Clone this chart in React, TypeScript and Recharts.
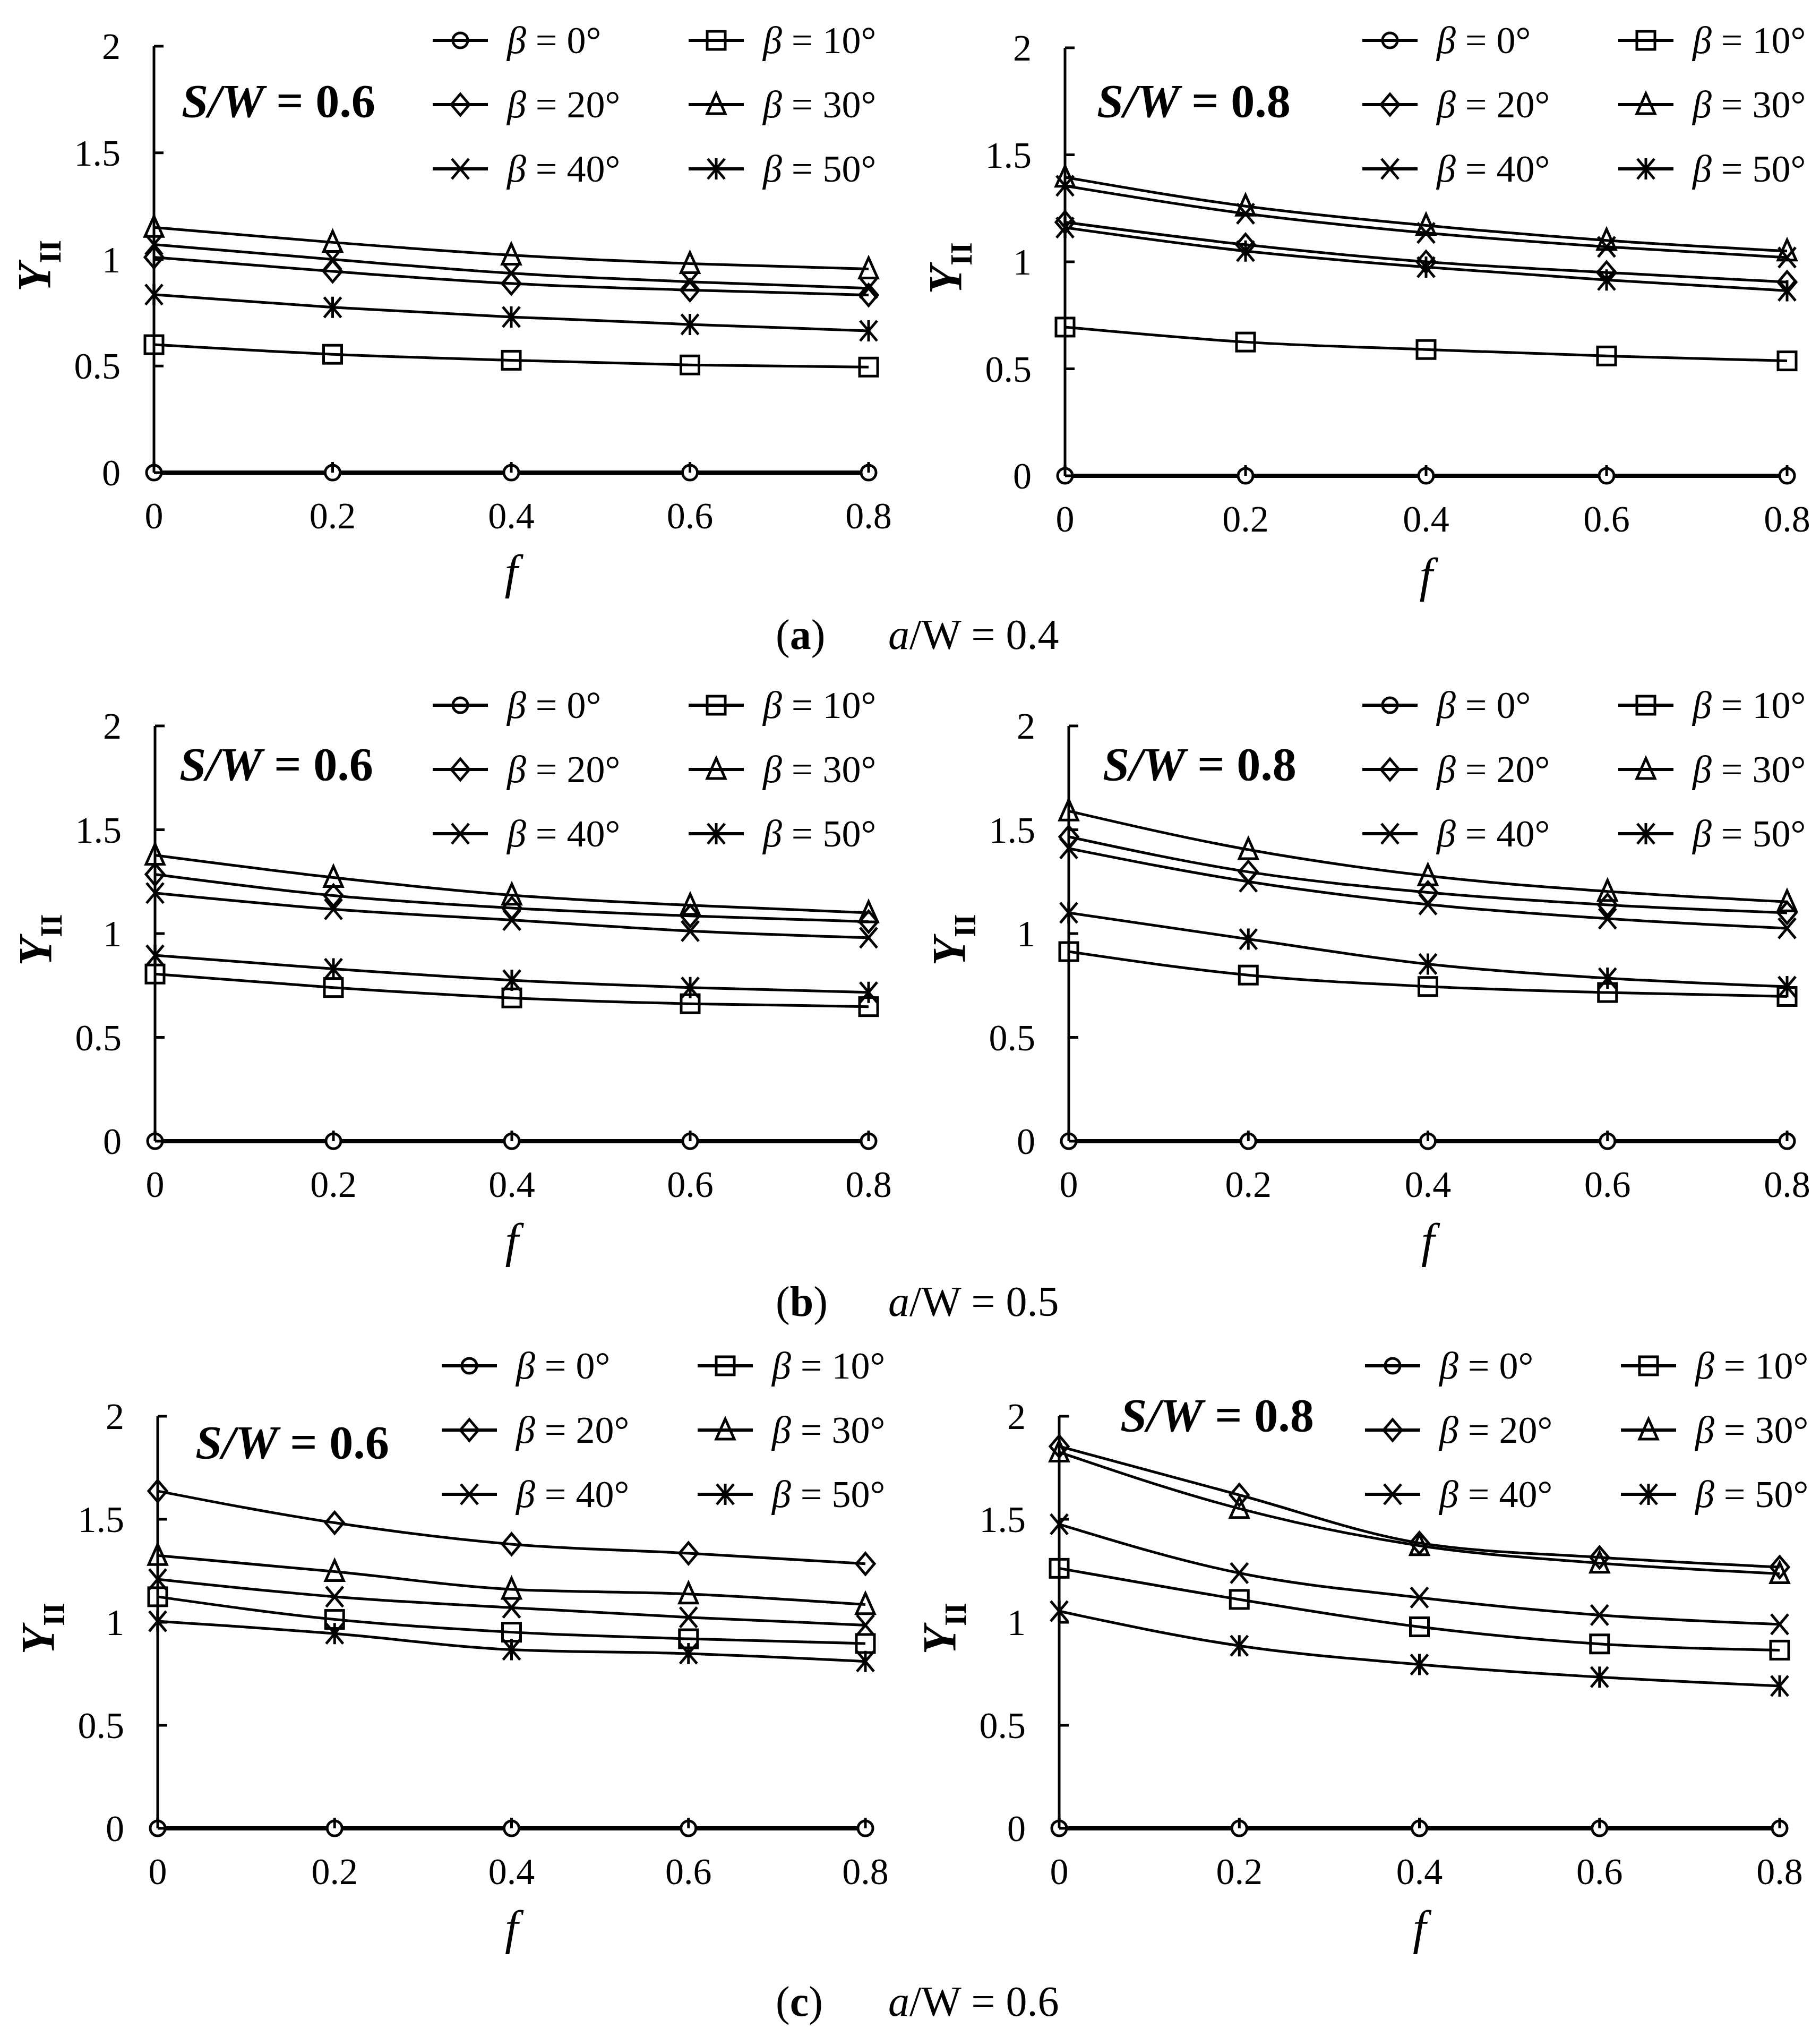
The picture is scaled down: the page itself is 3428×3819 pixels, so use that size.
import React from "react";
import { LineChart, Line, XAxis, YAxis, Legend } from "recharts";

const FONT = '"Liberation Serif", "Times New Roman", serif';

const F_VALUES = [0, 0.2, 0.4, 0.6, 0.8];
const X_TICKS = [0, 0.2, 0.4, 0.6, 0.8];
const Y_TICKS = [0, 0.5, 1, 1.5, 2];
const BETA_LABELS = ["0", "10", "20", "30", "40", "50"];
const BETA_KEYS = ["b0", "b10", "b20", "b30", "b40", "b50"];
const MARKERS = ["circle", "square", "diamond", "triangle", "cross", "asterisk"];

// Y_II per beta (rows: 0,10,20,30,40,50 deg), columns follow F_VALUES
const AW04_SW06 = [
  [0, 0, 0, 0, 0],
  [0.6, 0.555, 0.527, 0.505, 0.495],
  [1.01, 0.944, 0.887, 0.856, 0.833],
  [1.15, 1.08, 1.02, 0.98, 0.955],
  [1.07, 1.0, 0.935, 0.895, 0.865],
  [0.835, 0.775, 0.73, 0.695, 0.665],
];
const AW04_SW08 = [
  [0, 0, 0, 0, 0],
  [0.695, 0.625, 0.59, 0.56, 0.537],
  [1.185, 1.08, 1.0, 0.95, 0.905],
  [1.395, 1.26, 1.17, 1.1, 1.05],
  [1.355, 1.225, 1.135, 1.07, 1.02],
  [1.16, 1.05, 0.975, 0.915, 0.865],
];
const AW05_SW06 = [
  [0, 0, 0, 0, 0],
  [0.805, 0.74, 0.69, 0.662, 0.648],
  [1.285, 1.183, 1.123, 1.085, 1.057],
  [1.377, 1.27, 1.185, 1.136, 1.1],
  [1.195, 1.117, 1.065, 1.012, 0.98],
  [0.895, 0.83, 0.775, 0.74, 0.717],
];
const AW05_SW08 = [
  [0, 0, 0, 0, 0],
  [0.913, 0.8, 0.745, 0.716, 0.697],
  [1.466, 1.297, 1.198, 1.138, 1.1],
  [1.59, 1.404, 1.278, 1.203, 1.153],
  [1.41, 1.25, 1.14, 1.072, 1.025],
  [1.1, 0.973, 0.853, 0.785, 0.744],
];
const AW06_SW06 = [
  [0, 0, 0, 0, 0],
  [1.124, 1.014, 0.952, 0.92, 0.897],
  [1.637, 1.483, 1.379, 1.335, 1.284],
  [1.324, 1.246, 1.16, 1.137, 1.086],
  [1.209, 1.124, 1.071, 1.024, 0.986],
  [1.005, 0.945, 0.867, 0.848, 0.81],
];
const AW06_SW08 = [
  [0, 0, 0, 0, 0],
  [1.262, 1.111, 0.978, 0.895, 0.865],
  [1.854, 1.618, 1.385, 1.315, 1.268],
  [1.826, 1.552, 1.372, 1.287, 1.236],
  [1.476, 1.239, 1.12, 1.035, 0.99],
  [1.054, 0.886, 0.795, 0.734, 0.691],
];

// page layout (px) for each panel
const PANELS = [
  { id: "a1", sw: "0.6", values: AW04_SW06, x0: 290, x1: 1636, y2: 87, y0: 890, lx: 815, ly: 76, swX: 342, swY: 220 },
  { id: "a2", sw: "0.8", values: AW04_SW08, x0: 2006, x1: 3366, y2: 90, y0: 896, lx: 2566, ly: 76, swX: 2066, swY: 220 },
  { id: "b1", sw: "0.6", values: AW05_SW06, x0: 292, x1: 1636, y2: 1367, y0: 2149, lx: 815, ly: 1328, swX: 338, swY: 1469 },
  { id: "b2", sw: "0.8", values: AW05_SW08, x0: 2013, x1: 3366, y2: 1367, y0: 2149, lx: 2566, ly: 1328, swX: 2077, swY: 1469 },
  { id: "c1", sw: "0.6", values: AW06_SW06, x0: 297, x1: 1630, y2: 2667, y0: 3443, lx: 832, ly: 2572, swX: 368, swY: 2746 },
  { id: "c2", sw: "0.8", values: AW06_SW08, x0: 1995, x1: 3352, y2: 2667, y0: 3443, lx: 2571, ly: 2572, swX: 2110, swY: 2695 },
];

const CAPTIONS = [
  { tag: "a", aw: "0.4", y: 1222 },
  { tag: "b", aw: "0.5", y: 2478 },
  { tag: "c", aw: "0.6", y: 3796 },
];

const AXIS_W = 290;
const TOP_M = 140;
const RIGHT_M = 90;
const X_AXIS_H = 260;

function Marker({ shape, cx, cy, legend = false }: { shape: string; cx: number; cy: number; legend?: boolean }) {
  const st = { stroke: "#000", fill: "none", strokeWidth: 5 };
  switch (shape) {
    case "circle":
      return <circle cx={cx} cy={cy} r={14} fill={legend ? "none" : "#fff"} stroke="#000" strokeWidth={5} />;
    case "square":
      return <rect x={cx - 17} y={cy - 17} width={34} height={34} {...st} />;
    case "diamond":
      return <path d={`M${cx},${cy - 20}L${cx + 17},${cy}L${cx},${cy + 20}L${cx - 17},${cy}Z`} {...st} />;
    case "triangle":
      return <path d={`M${cx},${cy - 21}L${cx + 17},${cy + 17}L${cx - 17},${cy + 17}Z`} {...st} />;
    case "cross":
      return <path d={`M${cx - 16},${cy - 19}L${cx + 16},${cy + 19}M${cx + 16},${cy - 19}L${cx - 16},${cy + 19}`} {...st} />;
    default:
      return (
        <path
          d={`M${cx - 16},${cy - 19}L${cx + 16},${cy + 19}M${cx + 16},${cy - 19}L${cx - 16},${cy + 19}M${cx},${cy - 20}L${cx},${cy + 20}`}
          {...st}
        />
      );
  }
}

function XTick(props: any) {
  const { x, y, payload } = props;
  return (
    <g>
      <line x1={x} x2={x} y1={y} y2={y - 20} stroke="#000" strokeWidth={5} />
      <text x={x} y={y + 105} textAnchor="middle" fontFamily={FONT} fontSize={70} fill="#000">
        {String(payload.value)}
      </text>
    </g>
  );
}

function YTick(props: any) {
  const { x, y, payload } = props;
  return (
    <g>
      <line x1={x} x2={x + 18} y1={y} y2={y} stroke="#000" strokeWidth={5} />
      <text x={x - 63} y={y + 24} textAnchor="end" fontFamily={FONT} fontSize={70} fill="#000">
        {String(payload.value)}
      </text>
    </g>
  );
}

function Panel({ cfg }: { cfg: (typeof PANELS)[number] }) {
  const chartLeft = cfg.x0 - AXIS_W;
  const chartTop = cfg.y2 - TOP_M;
  const plotW = cfg.x1 - cfg.x0;
  const plotH = cfg.y0 - cfg.y2;
  const width = AXIS_W + plotW + RIGHT_M;
  const height = TOP_M + plotH + X_AXIS_H;

  const rows = F_VALUES.map((f, i) => {
    const r: Record<string, number> = { f };
    BETA_KEYS.forEach((k, j) => {
      r[k] = cfg.values[j][i];
    });
    return r;
  });

  const order = [1, 2, 3, 4, 5, 0];

  const overlay = () => (
    <svg width={width} height={height} style={{ overflow: "visible", display: "block" }}>
      {BETA_LABELS.map((b, i) => {
        const col = i % 2;
        const row = Math.floor(i / 2);
        const lx = cfg.lx - chartLeft + col * 482;
        const ly = cfg.ly - chartTop + row * 121;
        return (
          <g key={b}>
            <line x1={lx} x2={lx + 104} y1={ly} y2={ly} stroke="#000" strokeWidth={6} />
            <Marker shape={MARKERS[i]} cx={lx + 52} cy={ly} legend />
            <text x={lx + 140} y={ly + 24} fontFamily={FONT} fontSize={72} fill="#000">
              <tspan fontStyle="italic">β</tspan>
              {` = ${b}°`}
            </text>
          </g>
        );
      })}
      <text
        x={cfg.swX - chartLeft}
        y={cfg.swY - chartTop}
        fontFamily={FONT}
        fontSize={88}
        fontWeight="bold"
        fill="#000"
        textLength={365}
        lengthAdjust="spacingAndGlyphs"
      >
        <tspan fontStyle="italic">S/W</tspan>
        {" = " + cfg.sw}
      </text>
    </svg>
  );

  return (
    <div style={{ position: "absolute", left: chartLeft, top: chartTop }}>
      <LineChart width={width} height={height} data={rows} margin={{ top: TOP_M, right: RIGHT_M, bottom: 0, left: 0 }}>
        <XAxis
          type="number"
          dataKey="f"
          domain={[0, 0.8]}
          ticks={X_TICKS}
          interval={0}
          height={X_AXIS_H}
          axisLine={{ stroke: "#000", strokeWidth: 5 }}
          tickLine={false}
          tickSize={0}
          tickMargin={0}
          tick={<XTick />}
          label={{
            content: (p: any) => {
              const vb = p.viewBox || {};
              return (
                <text
                  x={vb.x + vb.width / 2}
                  y={vb.y + 218}
                  textAnchor="middle"
                  fontFamily={FONT}
                  fontSize={90}
                  fontStyle="italic"
                  fill="#000"
                >
                  f
                </text>
              );
            },
          }}
        />
        <YAxis
          type="number"
          domain={[0, 2]}
          ticks={Y_TICKS}
          interval={0}
          width={AXIS_W}
          axisLine={{ stroke: "#000", strokeWidth: 5 }}
          tickLine={false}
          tickSize={0}
          tickMargin={0}
          tick={<YTick />}
          label={{
            content: (p: any) => {
              const vb = p.viewBox || {};
              const cx = vb.x + vb.width - 196;
              const cy = vb.y + vb.height / 2 + 12;
              return (
                <text
                  transform={`translate(${cx},${cy}) rotate(-90)`}
                  textAnchor="middle"
                  fontFamily={FONT}
                  fontWeight="bold"
                  fill="#000"
                >
                  <tspan fontStyle="italic" fontSize={88}>
                    Y
                  </tspan>
                  <tspan fontSize={56} dy={20}>
                    II
                  </tspan>
                </text>
              );
            },
          }}
        />
        {order.map((j) => (
          <Line
            key={BETA_KEYS[j]}
            dataKey={BETA_KEYS[j]}
            name={`β = ${BETA_LABELS[j]}°`}
            type="monotone"
            stroke="#000"
            strokeWidth={j === 0 ? 8 : 5}
            isAnimationActive={false}
            dot={(p: any) => {
              const { cx, cy, index } = p;
              if (cx == null || cy == null) return <g key={`${BETA_KEYS[j]}-${index}`} />;
              return (
                <g key={`${BETA_KEYS[j]}-${index}`}>
                  <Marker shape={MARKERS[j]} cx={cx} cy={cy} />
                </g>
              );
            }}
            activeDot={false}
          />
        ))}
        <Legend
          layout="vertical"
          align="center"
          verticalAlign="middle"
          content={overlay}
          wrapperStyle={{ left: 0, top: 0, width, height, pointerEvents: "none" }}
        />
      </LineChart>
    </div>
  );
}

export default function App() {
  return (
    <div style={{ position: "absolute", left: 0, top: 0, width: 3428, height: 3819, background: "#fff", overflow: "hidden" }}>
      <svg width={3428} height={3819} style={{ position: "absolute", left: 0, top: 0 }}>
        {CAPTIONS.map((c) => (
          <g key={c.tag}>
            <text x={1461} y={c.y} fontFamily={FONT} fontSize={80} fill="#000">
              (<tspan fontWeight="bold">{c.tag}</tspan>)
            </text>
            <text x={1673} y={c.y} fontFamily={FONT} fontSize={80} fill="#000">
              <tspan fontStyle="italic">a</tspan>
              {"/W = " + c.aw}
            </text>
          </g>
        ))}
      </svg>
      {PANELS.map((p) => (
        <Panel key={p.id} cfg={p} />
      ))}
    </div>
  );
}
